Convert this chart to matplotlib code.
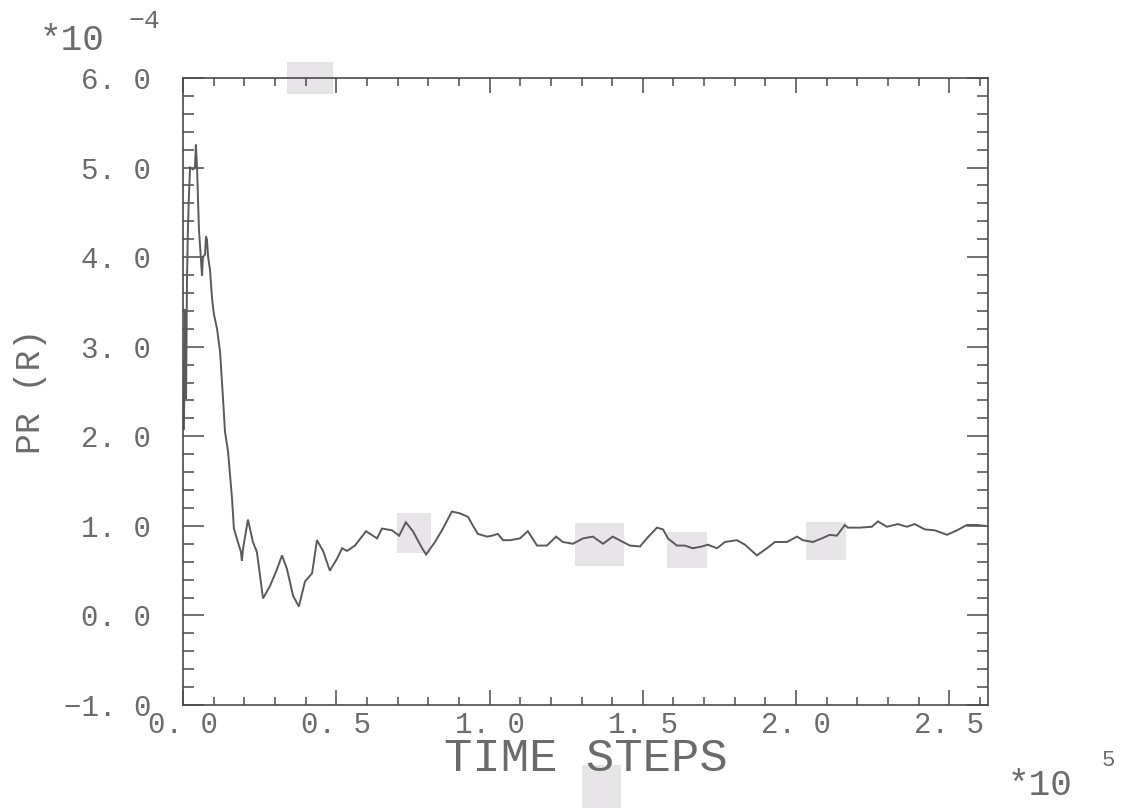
import matplotlib
matplotlib.use("Agg")
import matplotlib.pyplot as plt
from matplotlib.ticker import MultipleLocator, FixedLocator, FuncFormatter
from matplotlib.patches import Rectangle

# time steps in units of 1e5, PR(R) in units of 1e-4
time_steps = [
    0.003, 0.007, 0.010, 0.013, 0.016, 0.020, 0.023, 0.033, 0.039, 0.042,
    0.046, 0.052, 0.059, 0.062, 0.065, 0.072, 0.075, 0.078, 0.082, 0.088,
    0.095, 0.101, 0.111, 0.121, 0.130, 0.137, 0.147, 0.160, 0.166, 0.179,
    0.189, 0.192, 0.196, 0.212, 0.228, 0.241, 0.261, 0.284, 0.307, 0.323,
    0.339, 0.359, 0.378, 0.398, 0.421, 0.437, 0.457, 0.479, 0.502, 0.519,
    0.535, 0.561, 0.597, 0.633, 0.649, 0.682, 0.705, 0.727, 0.750, 0.780,
    0.793, 0.822, 0.848, 0.877, 0.903, 0.930, 0.946, 0.962, 0.992, 1.008,
    1.027, 1.044, 1.067, 1.099, 1.125, 1.155, 1.187, 1.217, 1.239, 1.272,
    1.305, 1.337, 1.370, 1.402, 1.435, 1.458, 1.491, 1.513, 1.546, 1.566,
    1.582, 1.611, 1.637, 1.663, 1.693, 1.712, 1.742, 1.768, 1.807, 1.833,
    1.872, 1.905, 1.931, 1.970, 2.003, 2.022, 2.055, 2.084, 2.110, 2.133,
    2.159, 2.169, 2.208, 2.247, 2.267, 2.296, 2.332, 2.361, 2.387, 2.420,
    2.453, 2.492, 2.525, 2.557, 2.590, 2.616,
]
pr_values = [
    2.08, 3.42, 2.42, 3.75, 4.31, 4.75, 5.00, 4.98, 5.00, 5.26,
    4.98, 4.31, 3.95, 3.79, 4.00, 4.03, 4.23, 4.20, 4.00, 3.86,
    3.53, 3.36, 3.20, 2.94, 2.45, 2.05, 1.83, 1.30, 0.97, 0.82,
    0.71, 0.61, 0.75, 1.07, 0.82, 0.71, 0.19, 0.33, 0.52, 0.67,
    0.52, 0.22, 0.10, 0.38, 0.47, 0.84, 0.72, 0.50, 0.63, 0.75,
    0.72, 0.78, 0.94, 0.86, 0.97, 0.95, 0.89, 1.04, 0.94, 0.75,
    0.68, 0.82, 0.97, 1.16, 1.14, 1.10, 1.00, 0.91, 0.88, 0.89,
    0.91, 0.84, 0.84, 0.86, 0.94, 0.78, 0.78, 0.88, 0.82, 0.80,
    0.86, 0.88, 0.80, 0.88, 0.82, 0.78, 0.77, 0.86, 0.98, 0.96,
    0.86, 0.78, 0.78, 0.75, 0.77, 0.79, 0.75, 0.82, 0.84, 0.79,
    0.67, 0.75, 0.82, 0.82, 0.88, 0.84, 0.82, 0.86, 0.90, 0.89,
    1.01, 0.98, 0.98, 0.99, 1.05, 0.99, 1.02, 0.99, 1.02, 0.96,
    0.95, 0.90, 0.95, 1.01, 1.01, 1.00,
]

x_ticks = [0.0, 0.5, 1.0, 1.5, 2.0, 2.5]
y_ticks = [-1.0, 0.0, 1.0, 2.0, 3.0, 4.0, 5.0, 6.0]
x_label = "TIME STEPS"
y_label = "PR (R)"

FONT = ["Liberation Mono", "DejaVu Sans Mono"]
INK = "#5a5a5a"
TXT = "#6b6b6b"
AXIS = "#4a4a4a"

W, H = 1130, 808
fig = plt.figure(figsize=(W / 100, H / 100), dpi=100)
fig.patch.set_facecolor("white")
ax = fig.add_axes([183 / W, 1 - 705 / H, (988 - 183) / W, (705 - 78) / H])
ax.set_facecolor("none")

ax.plot(time_steps, pr_values, color=INK, lw=1.4, solid_joinstyle="miter")

ax.set_xlim(0, 2.626)
ax.set_ylim(-1.0, 6.0)

ax.xaxis.set_major_locator(FixedLocator(x_ticks))
ax.xaxis.set_minor_locator(MultipleLocator(0.1))
ax.yaxis.set_major_locator(FixedLocator(y_ticks))
ax.yaxis.set_minor_locator(MultipleLocator(0.2))


def fmt(v, _pos):
    s = f"{abs(v):.1f}".replace(".", ". ")
    return ("\u2212" + s) if v < 0 else s


ax.xaxis.set_major_formatter(FuncFormatter(fmt))
ax.yaxis.set_major_formatter(FuncFormatter(fmt))

ax.tick_params(axis="both", which="both", direction="in", top=True, right=True,
               color=AXIS, width=1.1)
ax.tick_params(axis="x", which="major", length=11, pad=4)
ax.tick_params(axis="x", which="minor", length=6)
ax.tick_params(axis="y", which="major", length=15, pad=23)
ax.tick_params(axis="y", which="minor", length=8)
for lab in ax.get_xticklabels() + ax.get_yticklabels():
    lab.set_fontfamily(FONT)
    lab.set_fontsize(21)
    lab.set_color(TXT)

for sp in ax.spines.values():
    sp.set_color(AXIS)
    sp.set_linewidth(1.2)

ax.set_xlabel(x_label, family=FONT, fontsize=34, color=TXT, labelpad=-1)
ax.set_ylabel(y_label, family=FONT, fontsize=25, color=TXT, labelpad=12)

# scale factors
fig.text(40 / W, 1 - 50 / H, "*10", family=FONT, fontsize=26, color=TXT,
         ha="left", va="baseline")
fig.text(128 / W, 1 - 28 / H, "\u22124", family=FONT, fontsize=19, color=TXT,
         ha="left", va="baseline")
fig.text(1008 / W, 1 - 795 / H, "*10", family=FONT, fontsize=26, color=TXT,
         ha="left", va="baseline")
fig.text(1102 / W, 1 - 766 / H, "5", family=FONT, fontsize=16, color=TXT,
         ha="left", va="baseline")

# faint grey smudges on the sheet
smudges = [(287, 62, 333, 94), (397, 513, 431, 553), (575, 523, 624, 566),
           (667, 532, 707, 568), (806, 522, 846, 560), (582, 765, 621, 808)]
for x0, y0, x1, y1 in smudges:
    fig.patches.append(Rectangle((x0 / W, 1 - y1 / H), (x1 - x0) / W, (y1 - y0) / H,
                                 transform=fig.transFigure, facecolor="#e7e5e8",
                                 edgecolor="none", zorder=-1))

fig.savefig("out.png", dpi=100, facecolor="white")
